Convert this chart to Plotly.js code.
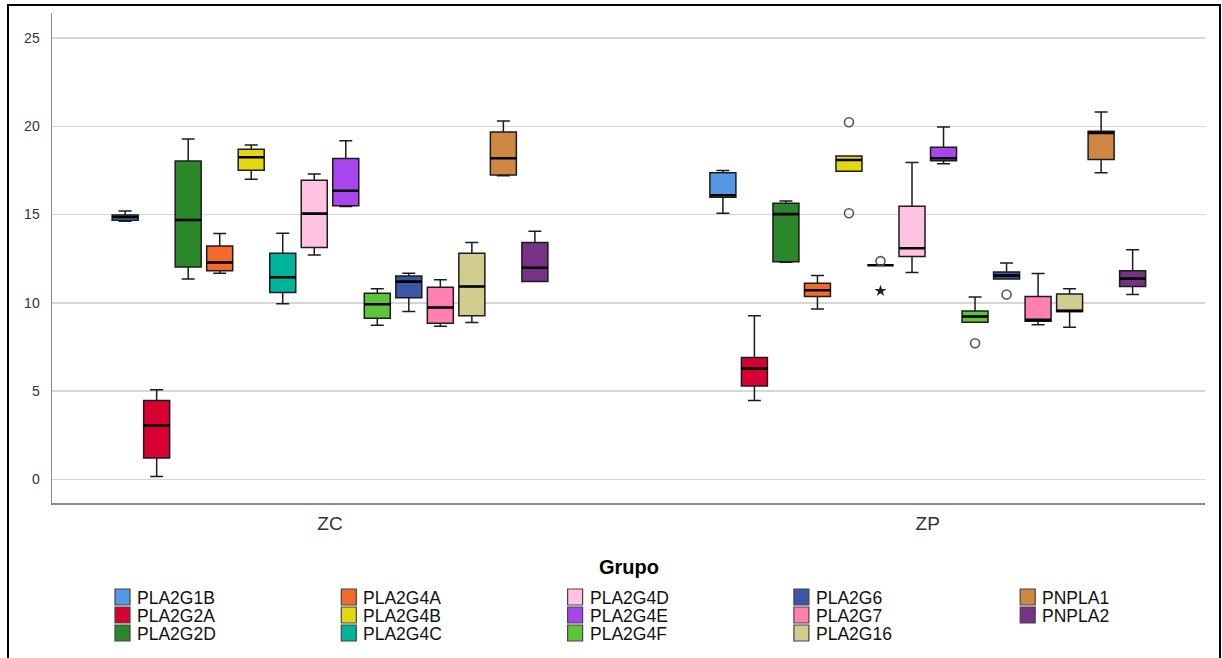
<!DOCTYPE html>
<html>
<head>
<meta charset="utf-8">
<script src="https://cdn.plot.ly/plotly-3.0.1.min.js"></script>
<style>
  html, body { margin: 0; padding: 0; background: #fff; }
  #chart { width: 1222px; height: 658px; }
</style>
</head>
<body>
<div id="chart"></div>
<script>
// Groups on the category axis
const grupos = ['ZC', 'ZP'];

// Genes, in plotting order inside each group
const genes = ['PLA2G1B', 'PLA2G2A', 'PLA2G2D', 'PLA2G4A', 'PLA2G4B', 'PLA2G4C', 'PLA2G4D',
               'PLA2G4E', 'PLA2G4F', 'PLA2G6', 'PLA2G7', 'PLA2G16', 'PNPLA1', 'PNPLA2'];

const colores = ['#5598e4', '#d60032', '#2a882a', '#f26a2c', '#e3d70f', '#00b39b', '#ffc3e1',
                 '#a845ee', '#5ec43a', '#3c56a6', '#ff80b1', '#d1cd8f', '#cf8843', '#763386'];

// Box statistics per gene, as [ZC, ZP]
const bigoteInf = [[14.62, 15.07], [0.16, 4.46], [11.34, 12.30], [11.67, 9.65], [17.00, 17.45],
                   [9.94, 12.13], [12.70, 11.71], [15.45, 17.88], [8.73, 8.90], [9.50, 11.34],
                   [8.67, 8.75], [8.88, 8.62], [17.20, 17.36], [11.20, 10.47]];
const cuartil1  = [[14.68, 15.98], [1.20, 5.29], [12.02, 12.33], [11.81, 10.35], [17.51, 17.45],
                   [10.58, 12.13], [13.13, 12.62], [15.49, 18.05], [9.13, 8.90], [10.29, 11.34],
                   [8.84, 8.96], [9.26, 9.50], [17.24, 18.11], [11.20, 10.92]];
const mediana   = [[14.85, 16.09], [3.05, 6.27], [14.69, 15.02], [12.28, 10.71], [18.24, 18.09],
                   [11.45, 12.13], [15.05, 13.09], [16.35, 18.19], [9.92, 9.22], [11.20, 11.54],
                   [9.73, 9.03], [10.92, 9.54], [18.19, 19.62], [11.98, 11.37]];
const cuartil3  = [[14.97, 17.36], [4.46, 6.90], [18.03, 15.64], [13.22, 11.11], [18.70, 18.32],
                   [12.81, 12.13], [16.94, 15.47], [18.17, 18.81], [10.54, 9.54], [11.52, 11.75],
                   [10.88, 10.35], [12.81, 10.49], [19.68, 19.72], [13.41, 11.81]];
const bigoteSup = [[15.20, 17.49], [5.07, 9.26], [19.28, 15.77], [13.92, 11.54], [18.94, 18.32],
                   [13.94, 12.13], [17.30, 17.94], [19.18, 19.96], [10.79, 10.33], [11.67, 12.26],
                   [11.31, 11.66], [13.41, 10.80], [20.30, 20.81], [14.05, 13.00]];

// Outliers (circles) and extreme values (stars)
const atipicoGen   = ['PLA2G4B', 'PLA2G4B', 'PLA2G4C', 'PLA2G4F', 'PLA2G6'];
const atipicoGrupo = ['ZP', 'ZP', 'ZP', 'ZP', 'ZP'];
const atipicoValor = [20.23, 15.07, 12.36, 7.71, 10.47];
const extremoGen   = ['PLA2G4C'];
const extremoGrupo = ['ZP'];
const extremoValor = [10.67];

// Position of a gene's box inside a group
const paso = 0.05273;
const anchoCaja = 0.0435;
function posicion(grupo, gen) {
  return grupos.indexOf(grupo) + (genes.indexOf(gen) - (genes.length - 1) / 2) * paso;
}

const traces = [];
genes.forEach((gen, i) => {
  const xs = grupos.map(g => posicion(g, gen));
  traces.push({
    type: 'box',
    name: gen,
    x: xs,
    q1: cuartil1[i],
    median: mediana[i],
    q3: cuartil3[i],
    lowerfence: bigoteInf[i],
    upperfence: bigoteSup[i],
    width: anchoCaja,
    whiskerwidth: 0.5,
    fillcolor: colores[i],
    line: { color: '#1c1c1c', width: 1.5 },
    showlegend: false,
    hoverinfo: 'skip'
  });
});
// Heavier median bars drawn over each box
genes.forEach((gen, i) => {
  traces.push({
    type: 'box',
    name: gen + ' mediana',
    x: grupos.map(g => posicion(g, gen)),
    q1: mediana[i],
    median: mediana[i],
    q3: mediana[i],
    lowerfence: mediana[i],
    upperfence: mediana[i],
    width: anchoCaja,
    whiskerwidth: 0,
    fillcolor: 'rgba(0,0,0,0)',
    line: { color: '#000', width: 2.6 },
    showlegend: false,
    hoverinfo: 'skip'
  });
});
traces.push({
  type: 'scatter', mode: 'markers', showlegend: false, hoverinfo: 'skip',
  x: atipicoGen.map((g, k) => posicion(atipicoGrupo[k], g)),
  y: atipicoValor,
  marker: { symbol: 'circle-open', size: 9, color: '#555', line: { width: 1.6 } }
});
traces.push({
  type: 'scatter', mode: 'markers', showlegend: false, hoverinfo: 'skip',
  x: extremoGen.map((g, k) => posicion(extremoGrupo[k], g)),
  y: extremoValor,
  marker: { symbol: 'star', size: 9, color: '#222' }
});

// Plot area in pixels, used to place the legend block below it
const M = { l: 52, r: 17, t: 13, b: 155 };
const W = 1222, H = 658;
const pw = W - M.l - M.r, ph = H - M.t - M.b;
const xp = px => (px - M.l) / pw;
const yp = py => (H - M.b - py) / ph;

const shapes = [];
const annotations = [];

// Outer frame
shapes.push({ type: 'rect', xref: 'paper', yref: 'paper',
  x0: xp(8), x1: xp(1220), y0: yp(662), y1: yp(5),
  line: { color: '#000', width: 2 }, fillcolor: 'rgba(0,0,0,0)', layer: 'below' });

// Legend: title and five columns of three entries
annotations.push({ xref: 'paper', yref: 'paper', x: xp(629), y: yp(567),
  xanchor: 'center', yanchor: 'middle', showarrow: false, text: '<b>Grupo</b>',
  font: { family: 'Liberation Sans, Arial, sans-serif', size: 20, color: '#000' } });
genes.forEach((gen, i) => {
  const col = Math.floor(i / 3), row = i % 3;
  const left = 115 + col * 226.3;
  const cy = 597 + row * 18;
  shapes.push({ type: 'rect', xref: 'paper', yref: 'paper',
    x0: xp(left), x1: xp(left + 15), y0: yp(cy + 8), y1: yp(cy - 8),
    fillcolor: colores[i], line: { color: '#444', width: 1.2 } });
  annotations.push({ xref: 'paper', yref: 'paper', x: xp(left + 20), y: yp(cy + 1),
    xanchor: 'left', yanchor: 'middle', showarrow: false, text: gen,
    font: { family: 'Liberation Sans, Arial, sans-serif', size: 17.5, color: '#111' } });
});

const layout = {
  width: W, height: H,
  margin: M,
  paper_bgcolor: '#fff', plot_bgcolor: '#fff',
  showlegend: false,
  boxmode: 'overlay',
  xaxis: {
    range: [-0.4651, 1.4638],
    tickvals: [0, 1], ticktext: grupos,
    showgrid: false, zeroline: false,
    showline: true, linecolor: '#8a8a8a', linewidth: 1.5,
    ticks: '', ticklabelstandoff: 3,
    tickfont: { family: 'Liberation Sans, Arial, sans-serif', size: 19, color: '#333' },
    fixedrange: true
  },
  yaxis: {
    range: [-1.343, 26.416],
    tickvals: [0, 5, 10, 15, 20, 25],
    showgrid: true, gridcolor: '#d6d6d6', gridwidth: 1.5,
    zeroline: false,
    showline: true, linecolor: '#8a8a8a', linewidth: 1.5,
    ticks: '', ticklabelstandoff: 8,
    tickfont: { family: 'Liberation Sans, Arial, sans-serif', size: 14, color: '#333' },
    fixedrange: true
  },
  shapes: shapes,
  annotations: annotations
};

Plotly.newPlot('chart', traces, layout, { displayModeBar: false, staticPlot: true });
</script>
</body>
</html>
